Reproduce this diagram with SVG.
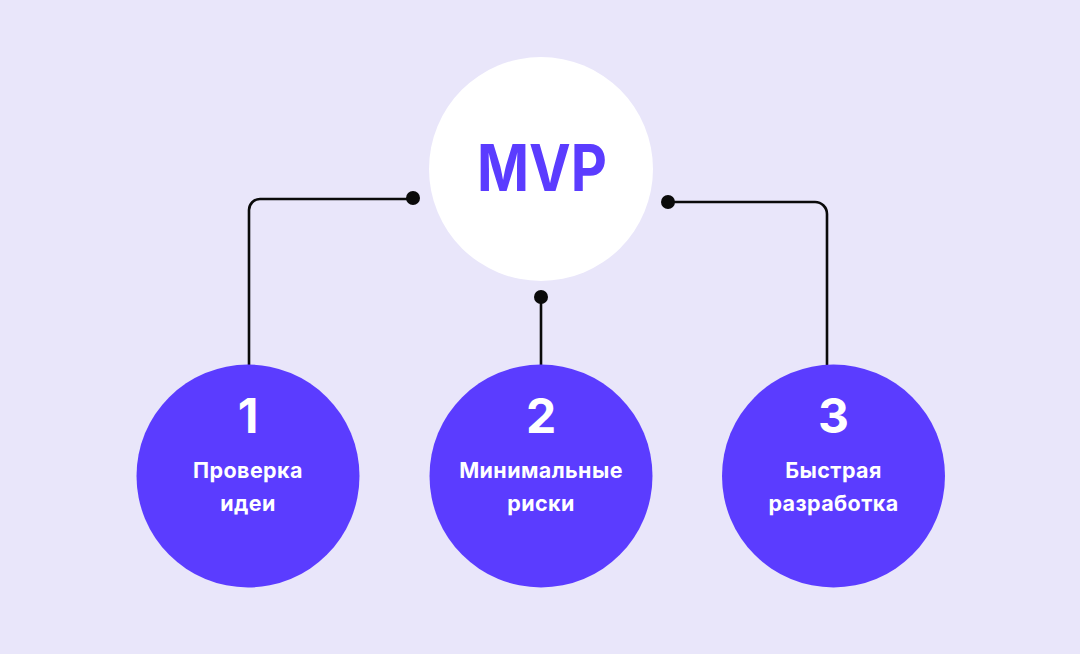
<svg xmlns="http://www.w3.org/2000/svg" width="1080" height="654" viewBox="0 0 1080 654">
<style>
.bg{fill:#E9E6FA}
.hub{fill:#FFFFFF}
.node{fill:#5B3CFF}
.line{fill:none;stroke:#0A0A0A;stroke-width:2.6}
.dot{fill:#0A0A0A}
.num{font-family:Inter,"Open Sans",sans-serif;font-weight:700;font-size:48px;fill:#FFFFFF;text-anchor:middle}
.lbl{font-family:Inter,"Open Sans",sans-serif;font-weight:700;font-size:21.5px;letter-spacing:0.4px;fill:#FFFFFF;text-anchor:middle}
.title{font-family:Inter,"Open Sans",sans-serif;font-weight:700;font-size:64px;fill:#5B3CFF;text-anchor:middle}
</style>
<rect class="bg" x="0" y="0" width="1080" height="654"/>
<g id="connectors">
<path class="line" d="M413 199 H260 A11 11 0 0 0 249 210 V366"/>
<circle class="dot" cx="413" cy="198" r="7"/>
<path class="line" d="M541 297 V366"/>
<circle class="dot" cx="541" cy="297" r="7"/>
<path class="line" d="M668 202 H815 A12 12 0 0 1 827 214 V366"/>
<circle class="dot" cx="668" cy="202" r="7"/>
</g>
<g id="mvp">
<circle class="hub" cx="541" cy="169" r="112"/>
<text class="title" x="542" y="191" textLength="130" lengthAdjust="spacingAndGlyphs">MVP</text>
</g>
<g id="node1">
<circle class="node" cx="248" cy="476" r="111.5"/>
<text class="num" x="248" y="433">1</text>
<text class="lbl" x="248" y="478">Проверка</text>
<text class="lbl" x="248" y="511">идеи</text>
</g>
<g id="node2">
<circle class="node" cx="541" cy="476" r="111.5"/>
<text class="num" x="541" y="433">2</text>
<text class="lbl" x="541" y="478">Минимальные</text>
<text class="lbl" x="541" y="511">риски</text>
</g>
<g id="node3">
<circle class="node" cx="833.5" cy="476" r="111.5"/>
<text class="num" x="833.5" y="433">3</text>
<text class="lbl" x="833.5" y="478">Быстрая</text>
<text class="lbl" x="833.5" y="511">разработка</text>
</g>
</svg>
